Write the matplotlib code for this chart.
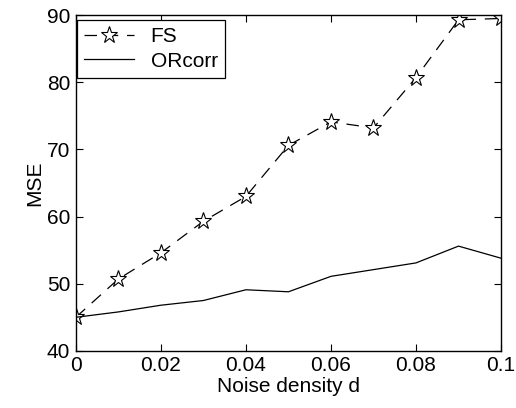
import matplotlib
matplotlib.use("Agg")
import matplotlib.pyplot as plt

noise = [0, 0.01, 0.02, 0.03, 0.04, 0.05, 0.06, 0.07, 0.08, 0.09, 0.1]
fs = [45.0, 50.7, 54.6, 59.3, 63.0, 70.6, 74.1, 73.2, 80.7, 89.3, 89.5]
orcorr = [45.0, 45.8, 46.8, 47.5, 49.1, 48.8, 51.1, 52.1, 53.1, 55.6, 53.8]

plt.rcParams['font.family'] = ['Liberation Sans', 'DejaVu Sans']
plt.rcParams['font.size'] = 15

fig = plt.figure(figsize=(5.16, 4.08), dpi=100)
ax = fig.add_axes([0.147, 0.140, 0.824, 0.823])

ax.plot(noise, fs, color='black', linestyle=(0, (10, 7)), linewidth=0.9,
        marker='*', markersize=12.5, markerfacecolor='white',
        markeredgecolor='black', markeredgewidth=0.8, label='FS')
ax.plot(noise, orcorr, color='black', linestyle='-', linewidth=0.9, label='ORcorr')

ax.set_xlim(0, 0.1)
ax.set_ylim(40, 90)
ax.set_xticks([0, 0.02, 0.04, 0.06, 0.08, 0.1])
ax.set_xticklabels(['0', '0.02', '0.04', '0.06', '0.08', '0.1'])
ax.set_yticks([40, 50, 60, 70, 80, 90])
ax.tick_params(direction='in', length=5, width=0.8, top=True, right=True, pad=4)
for s in ax.spines.values():
    s.set_linewidth(1.0)

ax.set_xlabel('Noise density d', labelpad=1)
ax.set_ylabel('MSE', labelpad=2)

leg = ax.legend(loc='upper left', bbox_to_anchor=(0.002, 0.985), fancybox=False,
                framealpha=1, edgecolor='black', borderaxespad=0,
                handlelength=2.4, borderpad=0.35, labelspacing=0.25)
leg.get_frame().set_linewidth(0.9)

fig.savefig('out.png', dpi=100)
